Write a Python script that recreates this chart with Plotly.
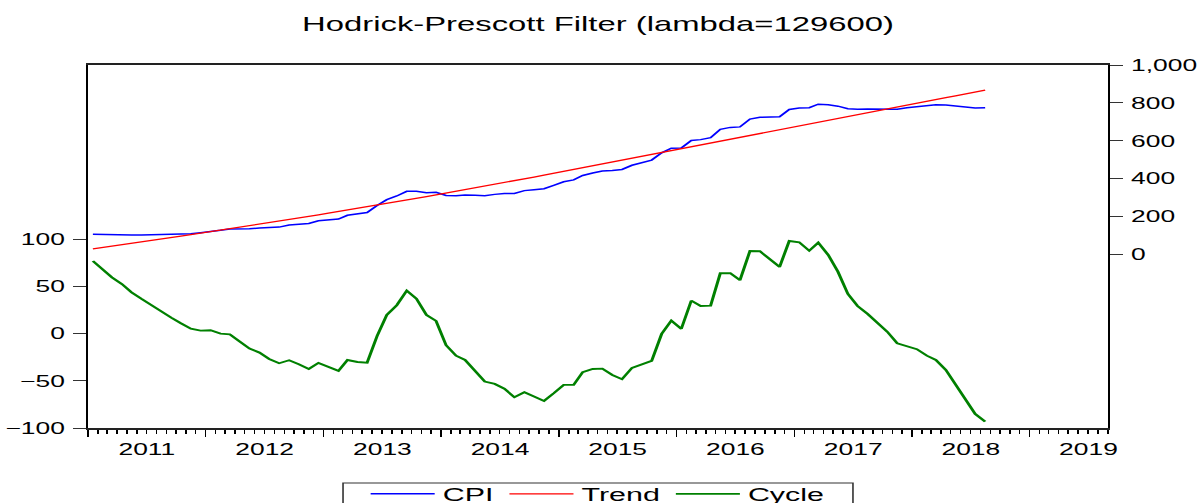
import pandas as pd
import plotly.graph_objects as go

# Monthly observations, 2011M01 - 2018M08
start_month = "2011-01-01"

cycle = [77.0, 68.2, 59.7, 52.6, 43.8, 36.8, 30.1, 23.0, 17.0, 11.0, 5.3, 3.2,
         3.6, 0.0, -0.7, -8.5, -15.9, -20.1, -26.8, -31.4, -28.2, -32.4, -37.4, -31.0,
         -35.3, -39.5, -27.9, -30.0, -30.7, -2.4, 19.8, 30.1, 45.6, 37.1, 19.8, 13.5,
         -12.3, -23.3, -27.9, -39.5, -50.8, -53.3, -58.3, -67.4, -62.1, -66.7, -71.3, -63.2,
         -54.3, -54.3, -40.9, -37.4, -37.1, -43.8, -48.3, -36.3, -32.1, -28.9, -0.3, 13.8,
         5.0, 35.0, 29.3, 29.7, 64.0, 64.0, 56.6, 87.6, 87.3, 79.1, 70.7, 98.2,
         96.8, 87.9, 96.4, 83.4, 65.7, 42.1, 29.3, 20.9, 11.0, 2.1, -10.2, -13.0,
         -16.5, -23.3, -27.9, -38.5, -53.3, -68.4, -85.1, -93.2]

trend = [29.0, 36.2, 43.5, 50.8, 58.1, 65.5, 73.0, 80.5, 88.1, 95.8, 103.5, 111.2,
         119.0, 126.9, 134.8, 142.8, 150.8, 158.9, 167.0, 175.2, 183.5, 191.8, 200.1, 208.5,
         217.0, 225.6, 234.2, 242.8, 251.6, 260.3, 269.2, 278.0, 287.0, 296.0, 305.0, 314.1,
         323.3, 332.5, 341.8, 351.1, 360.5, 369.9, 379.4, 389.0, 398.6, 408.2, 417.9, 427.7,
         437.5, 447.3, 457.1, 467.0, 476.9, 486.8, 496.7, 506.6, 516.5, 526.5, 536.5, 546.5,
         556.5, 566.5, 576.5, 586.5, 596.5, 606.5, 616.5, 626.5, 636.5, 646.5, 656.5, 666.6,
         676.6, 686.7, 696.7, 706.8, 716.8, 726.9, 736.9, 747.0, 757.0, 767.1, 777.1, 787.2,
         797.2, 807.3, 817.3, 827.4, 837.4, 847.5, 857.5, 867.6]

cpi = [106.0, 104.4, 103.2, 103.4, 101.9, 102.3, 103.1, 103.5, 105.1, 106.8, 108.8, 114.4,
       122.6, 126.9, 134.1, 134.3, 134.9, 138.8, 140.2, 143.8, 155.3, 159.4, 162.7, 177.5,
       181.7, 186.1, 206.3, 212.8, 220.9, 257.9, 289.0, 308.1, 332.6, 333.1, 324.8, 327.6,
       311.0, 309.2, 313.9, 311.6, 309.7, 316.6, 321.1, 321.6, 336.5, 341.5, 346.6, 364.5,
       383.2, 393.0, 416.2, 429.6, 439.8, 443.0, 448.4, 470.3, 484.4, 497.6, 536.2, 560.3,
       561.5, 601.5, 605.8, 616.2, 660.5, 670.5, 673.1, 714.1, 723.8, 725.6, 727.2, 764.8,
       773.4, 774.6, 793.1, 790.2, 782.5, 769.0, 766.2, 767.9, 768.0, 769.2, 766.9, 774.2,
       780.7, 784.0, 789.4, 788.9, 784.1, 779.1, 772.4, 774.4]

left_ticks = [-100, -50, 0, 50, 100]
right_ticks = [0, 200, 400, 600, 800, 1000]

months = pd.date_range(start_month, periods=len(cycle), freq="MS") + pd.Timedelta(days=15)

FONT = "Liberation Sans, Arial, sans-serif"

# The reference graph is an EViews graph shown at a 1.6x horizontal stretch;
# the figure is laid out at its native width and stretched to 1204 px.
W, H = 752, 503
STRETCH = 1204 / W

fig = go.Figure()
fig.add_trace(go.Scatter(x=months, y=cpi, name="CPI", mode="lines",
                         line=dict(color="#0000FF", width=1.5), yaxis="y2"))
fig.add_trace(go.Scatter(x=months, y=trend, name="Trend", mode="lines",
                         line=dict(color="#FF0000", width=1.3), yaxis="y2"))
fig.add_trace(go.Scatter(x=months, y=cycle, name="Cycle", mode="lines",
                         line=dict(color="#008000", width=1.9), yaxis="y"))

fig.update_layout(
    width=W, height=H,
    margin=dict(l=55, r=60, t=65, b=75, autoexpand=False),
    paper_bgcolor="white", plot_bgcolor="white",
    font=dict(family=FONT, color="black", size=16.5),
    title=dict(text="Hodrick-Prescott Filter (lambda=129600)", x=0.5, xref="paper",
               xanchor="center", y=1 - 24 / H, yref="container", yanchor="middle",
               font=dict(size=20.5, family=FONT, color="black")),
    xaxis=dict(type="date", range=["2011-01-01", "2019-09-01"],
               tick0="2011-01-01", dtick="M12", tickformat="%Y", ticklabelmode="period",
               ticks="outside", ticklen=7, tickwidth=1.2, tickcolor="black",
               showline=True, linecolor="#222222", linewidth=1.5, mirror=True,
               showgrid=False, zeroline=False, tickfont=dict(size=16.5),
               ticklabelstandoff=-2,
               minor=dict(dtick="M1", ticks="outside", ticklen=4, tickwidth=0.9,
                          tickcolor="black", showgrid=False)),
    yaxis=dict(range=[-100, 284.7], tickvals=left_ticks, ticks="outside", ticklen=8,
               tickcolor="#333333", tickwidth=1, showline=True, linecolor="black",
               linewidth=1.3, showgrid=False, zeroline=False, tickfont=dict(size=16.5),
               ticklabelstandoff=2),
    yaxis2=dict(range=[-917.4, 1000], tickvals=right_ticks, tickformat=",",
                overlaying="y", side="right", ticks="outside", ticklen=8,
                tickcolor="#333333", tickwidth=1, showline=True, linecolor="black",
                linewidth=1.3, showgrid=False, zeroline=False, tickfont=dict(size=16.5),
                ticklabelstandoff=2),
    showlegend=True,
    legend=dict(orientation="h", x=0.5, xanchor="center", y=(428 - 494) / 363,
                yanchor="middle", borderwidth=0, bgcolor="rgba(0,0,0,0)",
                itemwidth=40, font=dict(size=19, family=FONT, color="black")),
    shapes=[dict(type="rect", xref="paper", yref="paper", x0=0.25, x1=0.75,
                 y0=(428 - 483) / 363, y1=(428 - 520) / 363,
                 line=dict(color="#333333", width=1), fillcolor="rgba(0,0,0,0)",
                 layer="below")],
)

post = """
document.body.style.margin = '0';
document.body.style.overflow = 'hidden';
var gd = document.getElementById('{plot_id}');
gd.style.transformOrigin = '0 0';
gd.style.transform = 'scaleX(%f)';
""" % STRETCH

fig.write_html("out.html", post_script=post, config={"displayModeBar": False})
